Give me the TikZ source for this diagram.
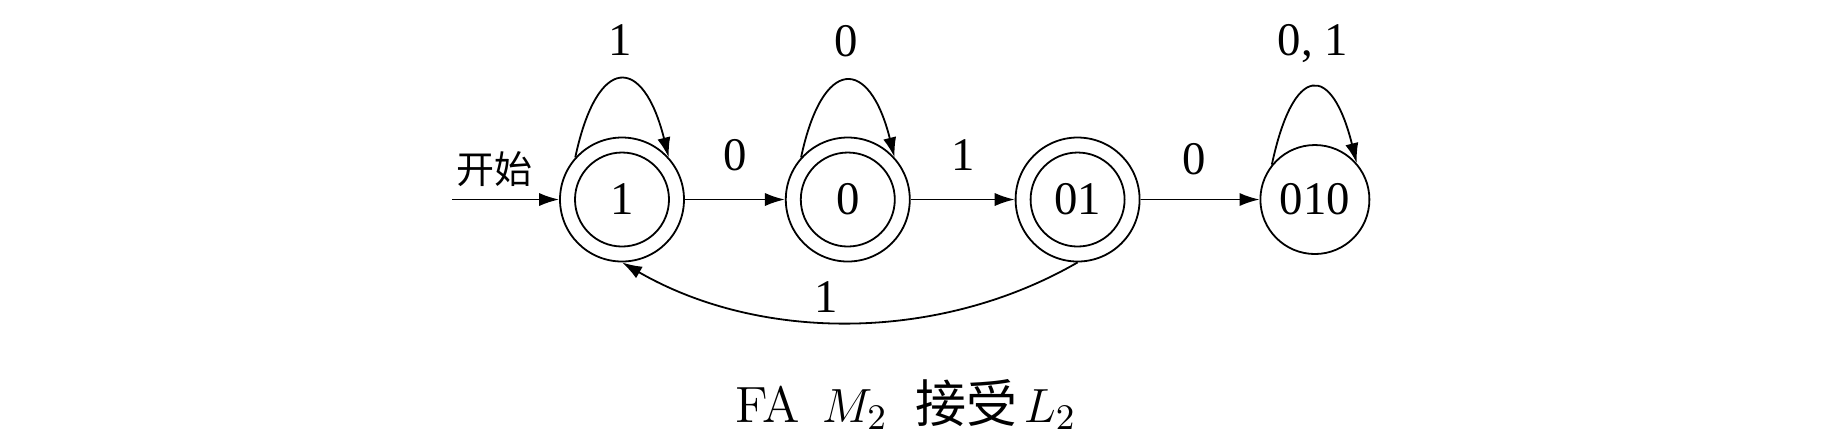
\documentclass[tikz,border=0pt]{standalone}
\usepackage{fontspec}
\newfontfamily\timesfont{Liberation Serif}
\newfontfamily\cjk{Noto Sans CJK SC}
\usepackage{tikz}
\usetikzlibrary{arrows.meta,positioning}
\newcommand\diagfont{\timesfont\fontsize{11.7}{14}\selectfont}

\begin{document}
\begin{tikzpicture}[x=0.25pt, y=-0.25pt, line width=0.45pt,
	>={Latex[length=5pt,width=3.3pt]},
	fastate/.style={circle, draw, minimum size=27.25pt, inner sep=0pt, font=\diagfont},
	accstate/.style={fastate, minimum size=31pt,
		path picture={\draw (path picture bounding box.center) circle (11.75pt);}},
	lbl/.style={inner sep=1pt, font=\diagfont}]
				\useasboundingbox (0,0) rectangle (1834,444);
				
				\node[accstate] (s1) at (622,199.5) {1};
				\node[accstate, right=25pt of s1] (s0) {0};
				\node[accstate, right=26pt of s0] (s01) {01};
				\node[fastate, right=29.75pt of s01] (s010) {010};
				\coordinate (start) at (452,199.5);
				
				\draw[->] (start) -- node[lbl, above=2pt, pos=0.4, font=\cjk\fontsize{9.5}{11}\selectfont] {开始} (s1);
				\draw[->] (s1) -- node[lbl, above=6pt] {0} (s0);
				\draw[->] (s0) -- node[lbl, above=6pt] {1} (s01);
				\draw[->] (s01) -- node[lbl, above=5pt, pos=0.45] {0} (s010);
				
				\draw[->] (s1.138) .. controls +(78:26.5pt) and +(104:26.5pt) .. node[lbl, above=5pt] {1} (s1.42);
				\draw[->] (s0.138) .. controls +(78:26pt) and +(104:26pt) .. node[lbl, above=5pt] {0} (s0.42);
				\draw[->] (s010.141) .. controls +(78:26pt) and +(104:26pt) .. node[lbl, above=5pt] {0, 1} (s010.41);
				\draw[->] (s01.south) to[out=-150, in=-30, looseness=0.9] node[lbl, above=1pt, pos=0.55] {1} (s1.south);
				
				\node[anchor=base, font=\fontsize{12.75}{15}\selectfont] (caption) at (906,422) {
					FA\hspace{5.4pt}$M_2$\hspace{7pt}{\cjk 接受}\hspace{1.5pt}$L_2$
				};
			\end{tikzpicture}
\end{document}
